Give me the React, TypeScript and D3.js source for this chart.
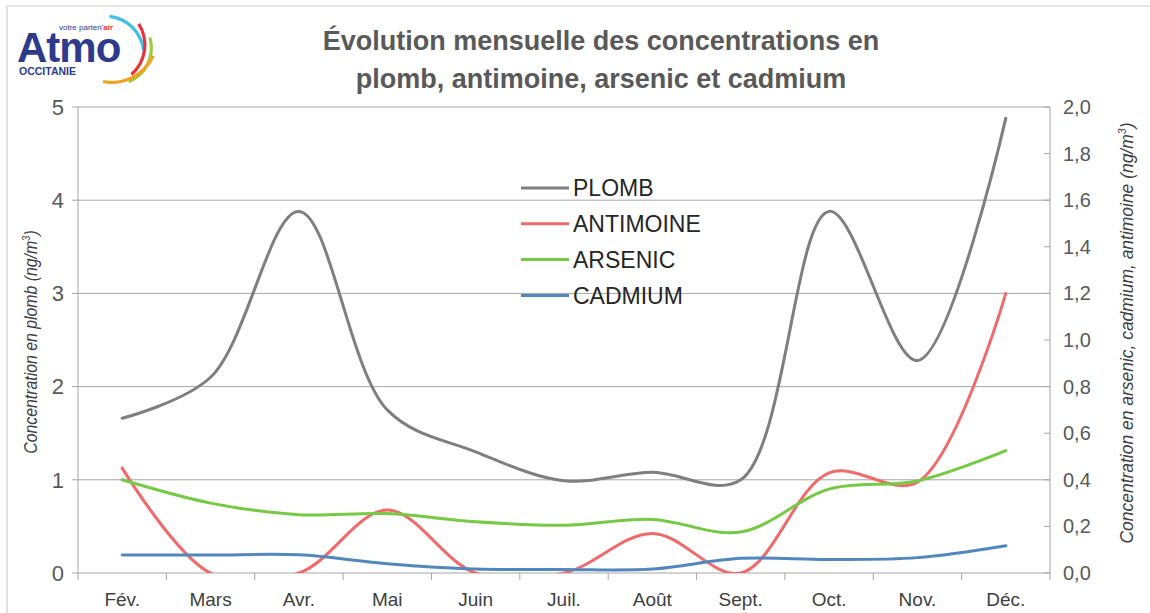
import React from 'react';
import * as d3 from 'd3';

const months = ['Fév.', 'Mars', 'Avr.', 'Mai', 'Juin', 'Juil.', 'Août', 'Sept.', 'Oct.', 'Nov.', 'Déc.'];
const plomb = [1.66, 2.1, 3.88, 1.75, 1.3, 0.99, 1.08, 1.0, 3.88, 2.28, 4.88];
const antimoine = [0.45, 0.0, 0.0, 0.27, 0.0, 0.0, 0.17, 0.0, 0.43, 0.39, 1.2];
const arsenic = [0.4, 0.3, 0.25, 0.255, 0.22, 0.205, 0.23, 0.176, 0.36, 0.395, 0.525];
const cadmium = [0.077, 0.077, 0.078, 0.04, 0.017, 0.015, 0.017, 0.063, 0.058, 0.066, 0.117];
const leftTicks = [0, 1, 2, 3, 4, 5];
const rightTicks = [0, 0.2, 0.4, 0.6, 0.8, 1.0, 1.2, 1.4, 1.6, 1.8, 2.0];

const series = [
  {name: 'PLOMB', values: plomb, axis: 'left', color: '#7f7f7f'},
  {name: 'ANTIMOINE', values: antimoine, axis: 'right', color: '#ef6b6b'},
  {name: 'ARSENIC', values: arsenic, axis: 'right', color: '#76c944'},
  {name: 'CADMIUM', values: cadmium, axis: 'right', color: '#5287bd'},
];

const W = 1150, H = 613;
const margin = {top: 107, right: 100, bottom: 40, left: 78};
const FONT = '"Liberation Sans Narrow", "Arial Narrow", "Liberation Sans", Arial, sans-serif';
const LOGO_FONT = 'Arial, "Liberation Sans", sans-serif';

// logo arcs: centre, radius, angles (rad, clockwise from top)
const logoArcs = [
  {cx: 105, cy: 55, r: 40.5, a0: 0.12, a1: 1.45, c: '#3fc0e8'},
  {cx: 106, cy: 45, r: 40.5, a0: 1.0, a1: 2.43, c: '#e8333f'},
  {cx: 115, cy: 48, r: 38, a0: 1.28, a1: 2.76, c: '#9ccb3b'},
  {cx: 112, cy: 37, r: 47, a0: 2.0, a1: 3.34, c: '#f6a21e'},
];

export default function App() {
  const x = d3.scaleBand<string>().domain(months).range([margin.left, W - margin.right]);
  const yL = d3.scaleLinear().domain([0, 5]).range([H - margin.bottom, margin.top]);
  const yR = d3.scaleLinear().domain([0, 2]).range([H - margin.bottom, margin.top]);
  const cx = (i: number) => (x(months[i]) as number) + x.bandwidth() / 2;
  const x0 = margin.left, x1 = W - margin.right, yb = H - margin.bottom;
  const axisColor = '#a6a6a6';
  const fmt = (v: number) => v.toFixed(1).replace('.', ',');

  const line = (vals: number[], scale: d3.ScaleLinear<number, number>) =>
    d3.line<number>().x((_, i) => cx(i)).y(d => scale(d)).curve(d3.curveCatmullRom.alpha(0.5))(vals) || '';

  const arcGen = d3.arc();

  return (
    <svg width={W} height={H} style={{position: 'absolute', left: 0, top: 0, background: '#fff'}} fontFamily={FONT}>
      <defs>
        <clipPath id="plot-clip">
          <rect x={x0} y={margin.top - 10} width={x1 - x0} height={yb - margin.top + 10} />
        </clipPath>
      </defs>
      {/* outer frame */}
      <line x1={7} x2={W} y1={6} y2={6} stroke="#d9d9d9" strokeWidth={1.5} />
      <line x1={7} x2={7} y1={6} y2={H} stroke="#d9d9d9" strokeWidth={1.5} />

      {/* logo */}
      <g>
        {logoArcs.map((a, i) => (
          <path key={i} transform={`translate(${a.cx},${a.cy})`} fill={a.c}
            d={arcGen({innerRadius: a.r - 3.2, outerRadius: a.r, startAngle: a.a0, endAngle: a.a1, cornerRadius: 1.5} as any) || ''} />
        ))}
        <text x={17} y={62} fontFamily={LOGO_FONT} fontWeight={700} fontSize={42} fill="#2e3b8c" letterSpacing={-1}>Atmo</text>
        <text x={59} y={30} fontFamily={LOGO_FONT} fontSize={8} fill="#2e3b8c">votre parten'<tspan fontWeight={700} fill="#e8333f">air</tspan></text>
        <text x={19} y={75} fontFamily={LOGO_FONT} fontWeight={700} fontSize={10.5} fill="#2e3b8c">OCCITANIE</text>
      </g>

      {/* title */}
      <text x={601} y={50} textAnchor="middle" fontSize={27} fontWeight={700} fill="#595959">Évolution mensuelle des concentrations en</text>
      <text x={601} y={88} textAnchor="middle" fontSize={27} fontWeight={700} fill="#595959">plomb, antimoine, arsenic et cadmium</text>

      {/* gridlines */}
      {leftTicks.filter(t => t > 0).map(t => (
        <line key={t} x1={x0} x2={x1} y1={yL(t)} y2={yL(t)} stroke={axisColor} strokeWidth={1} />
      ))}

      {/* left axis */}
      <line x1={x0} x2={x0} y1={margin.top} y2={yb} stroke={axisColor} />
      {leftTicks.map(t => (
        <g key={t}>
          <line x1={x0 - 6} x2={x0} y1={yL(t)} y2={yL(t)} stroke={axisColor} />
          <text x={x0 - 14} y={yL(t)} dy="0.35em" textAnchor="end" fontSize={22} fill="#595959">{t}</text>
        </g>
      ))}
      <g transform={`translate(37,342) rotate(-90) scale(0.88,1)`}>
        <text x={0} y={0} textAnchor="middle" fontSize={18} fontStyle="italic" fill="#404040">
          Concentration en plomb (ng/m<tspan dy={-7} fontSize={11}>3</tspan><tspan dy={7}>)</tspan>
        </text>
      </g>

      {/* right axis */}
      <line x1={x1} x2={x1} y1={margin.top} y2={yb} stroke={axisColor} />
      {rightTicks.map(t => (
        <g key={t}>
          <line x1={x1 - 6} x2={x1} y1={yR(t)} y2={yR(t)} stroke={axisColor} />
          <text x={x1 + 13} y={yR(t)} dy="0.35em" textAnchor="start" fontSize={20} fill="#595959">{fmt(t)}</text>
        </g>
      ))}
      <g transform={`translate(1133,333) rotate(-90) scale(0.97,1)`}>
        <text x={0} y={0} textAnchor="middle" fontSize={18} fontStyle="italic" fill="#404040">
          Concentration en arsenic, cadmium, antimoine (ng/m<tspan dy={-7} fontSize={11}>3</tspan><tspan dy={7}>)</tspan>
        </text>
      </g>

      {/* x axis */}
      <line x1={x0} x2={x1} y1={yb} y2={yb} stroke={axisColor} />
      {months.map((m, i) => (
        <g key={m}>
          <line x1={x(m) as number} x2={x(m) as number} y1={yb} y2={yb + 7} stroke={axisColor} />
          <text x={cx(i)} y={yb + 33} textAnchor="middle" fontSize={19} fill="#404040">{m}</text>
        </g>
      ))}
      <line x1={x1} x2={x1} y1={yb} y2={yb + 7} stroke={axisColor} />

      {/* series */}
      <g clipPath="url(#plot-clip)">
        {series.map(s => (
          <path key={s.name} d={line(s.values, s.axis === 'left' ? yL : yR)} fill="none" stroke={s.color} strokeWidth={3} strokeLinejoin="round" strokeLinecap="round" />
        ))}
      </g>

      {/* legend */}
      {series.map((s, i) => (
        <g key={s.name} transform={`translate(521,${188 + i * 35.8})`}>
          <line x1={0} x2={48} y1={0} y2={0} stroke={s.color} strokeWidth={3} />
          <text x={52} y={0} dy="0.36em" fontSize={23} fill="#262626">{s.name}</text>
        </g>
      ))}
    </svg>
  );
}
